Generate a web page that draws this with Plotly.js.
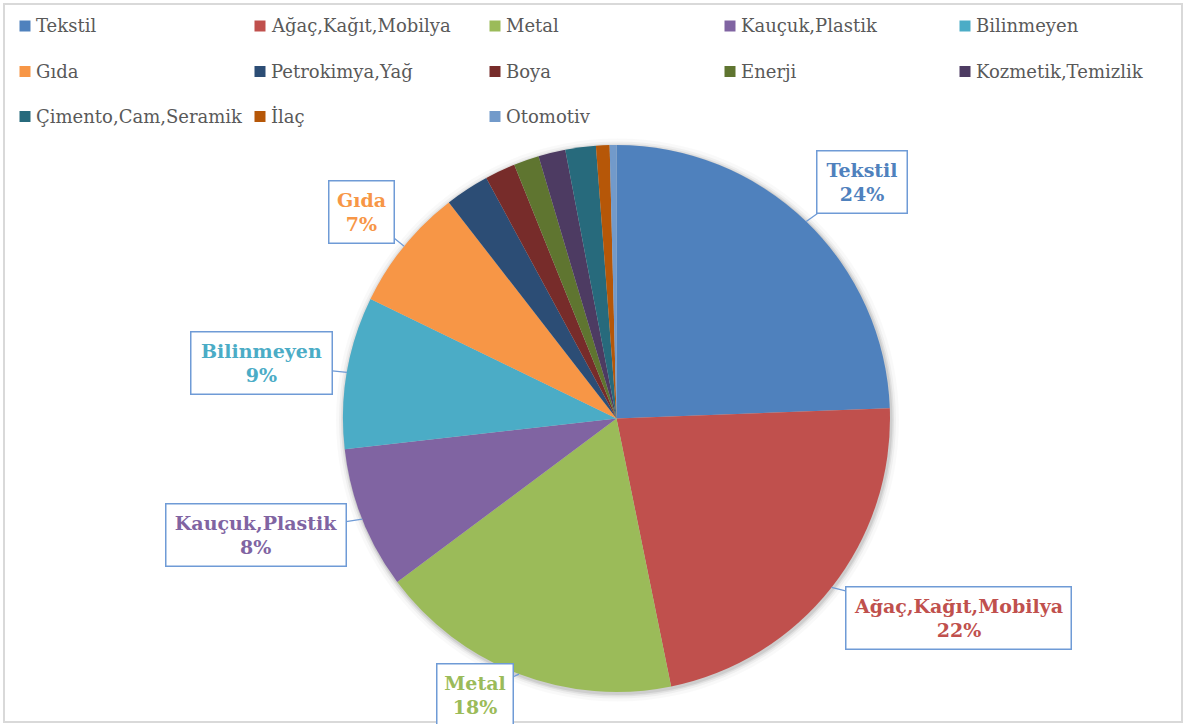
<!DOCTYPE html>
<html>
<head>
<meta charset="utf-8">
<script src="https://cdn.plot.ly/plotly-3.0.1.min.js"></script>
<style>html,body{margin:0;padding:0;background:#fff;}#chart{width:1186px;height:724px;}</style>
</head>
<body>
<div id="chart"></div>
<script>
// ---- data ----
const categories = ["Tekstil","Ağaç,Kağıt,Mobilya","Metal","Kauçuk,Plastik","Bilinmeyen",
  "Gıda","Petrokimya,Yağ","Boya","Enerji","Kozmetik,Temizlik",
  "Çimento,Cam,Seramik","İlaç","Otomotiv"];
const values = [24.4, 22.4, 18.0, 8.4, 9.0, 7.3, 2.6, 1.8, 1.5, 1.6, 1.8, 0.8, 0.4];
const colors = ["#4F81BD","#C0504D","#9BBB59","#8064A2","#4BACC6","#F79646",
  "#2C4D75","#772C2A","#5F7530","#4D3B62","#276A7C","#B65708","#729ACA"];
const labelledCategories = ["Tekstil","Ağaç,Kağıt,Mobilya","Metal","Kauçuk,Plastik","Bilinmeyen","Gıda"];

// ---- layout constants (pixels) ----
const W = 1186, H = 724;
const cx = 616.5, cy = 418.5, R = 273.5;
const px = x => x / W;
const py = y => 1 - y / H;

// callout box centres and sizes (pixels)
const calloutBoxes = {
  "Tekstil":            {x: 861.7, y: 182,   w: 92,  h: 64},
  "Ağaç,Kağıt,Mobilya": {x: 958.3, y: 618,   w: 227, h: 64},
  "Metal":              {x: 475,   y: 695,   w: 78,  h: 64},
  "Kauçuk,Plastik":     {x: 255.8, y: 534.7, w: 182, h: 64},
  "Bilinmeyen":         {x: 261.5, y: 363.5, w: 143, h: 64},
  "Gıda":               {x: 361.5, y: 212,   w: 67,  h: 64}
};

const total = values.reduce((a, b) => a + b, 0);
const annotations = [];
const shapes = [];

// chart frame
shapes.push({type: "rect", xref: "paper", yref: "paper",
  x0: px(4), x1: px(1182), y0: py(722), y1: py(4),
  line: {color: "#D9D9D9", width: 2}, fillcolor: "rgba(0,0,0,0)", layer: "below"});

// soft shadow behind the pie
[[8, 0.025], [5, 0.04], [3, 0.06], [1.5, 0.08]].forEach(([d, a]) => {
  shapes.push({type: "circle", xref: "paper", yref: "paper",
    x0: px(cx - R - d + 1), x1: px(cx + R + d + 1),
    y0: py(cy + R + d + 1.5), y1: py(cy - R - d + 1.5),
    fillcolor: "rgba(0,0,0," + a + ")", line: {width: 0}, layer: "below"});
});

// callouts
let cum = 0;
values.forEach((v, i) => {
  const start = cum / total * 360;
  cum += v;
  const end = cum / total * 360;
  const name = categories[i];
  if (!labelledCategories.includes(name)) return;
  const mid = (start + end) / 2 * Math.PI / 180;
  const tipX = cx + R * Math.sin(mid);
  const tipY = cy - R * Math.cos(mid);
  const box = calloutBoxes[name];
  const pct = Math.round(v / total * 100);
  const bw = 1.5, pad = 1;
  annotations.push({
    xref: "paper", yref: "paper", x: px(tipX), y: py(tipY),
    ax: box.x - tipX, ay: box.y - tipY,
    showarrow: true, arrowhead: 0, arrowwidth: 1.3, arrowcolor: "#6F9BD6", standoff: 0,
    text: "<b>" + name + "</b><br><b>" + pct + "%</b>",
    font: {family: "DejaVu Serif", size: 19, color: colors[i]},
    bgcolor: "#FFFFFF", bordercolor: "#6F9BD6", borderwidth: bw, borderpad: pad,
    width: box.w - 2 * (bw + pad), height: box.h - 2 * (bw + pad),
    align: "center", valign: "middle"
  });
});

// legend (5 columns x 3 rows)
const legendCols = 5, colStep = 235, sqLeft = 19.5, sq = 11, textLeft = 34;
const rowY = [26, 71.5, 116.5];
categories.forEach((name, i) => {
  const c = i % legendCols, r = Math.floor(i / legendCols);
  const x0 = sqLeft + c * colStep, yc = rowY[r];
  shapes.push({type: "rect", xref: "paper", yref: "paper",
    x0: px(x0), x1: px(x0 + sq), y0: py(yc + sq / 2), y1: py(yc - sq / 2),
    fillcolor: colors[i], line: {width: 0}});
  annotations.push({xref: "paper", yref: "paper", x: px(textLeft + c * colStep), y: py(yc),
    xanchor: "left", yanchor: "middle", showarrow: false, text: name,
    font: {family: "DejaVu Serif", size: 18, color: "#595959"}});
});

const data = [{
  type: "pie", labels: categories, values: values, sort: false,
  direction: "clockwise", rotation: 0, textinfo: "none",
  marker: {colors: colors, line: {width: 0}},
  domain: {x: [px(cx - R), px(cx + R)], y: [py(cy + R), py(cy - R)]},
  showlegend: false, hoverinfo: "label+percent"
}];

const layout = {
  width: W, height: H, margin: {l: 0, r: 0, t: 0, b: 0},
  paper_bgcolor: "#FFFFFF", plot_bgcolor: "#FFFFFF",
  showlegend: false, shapes: shapes, annotations: annotations
};

Plotly.newPlot("chart", data, layout, {displayModeBar: false, staticPlot: true});
</script>
</body>
</html>
